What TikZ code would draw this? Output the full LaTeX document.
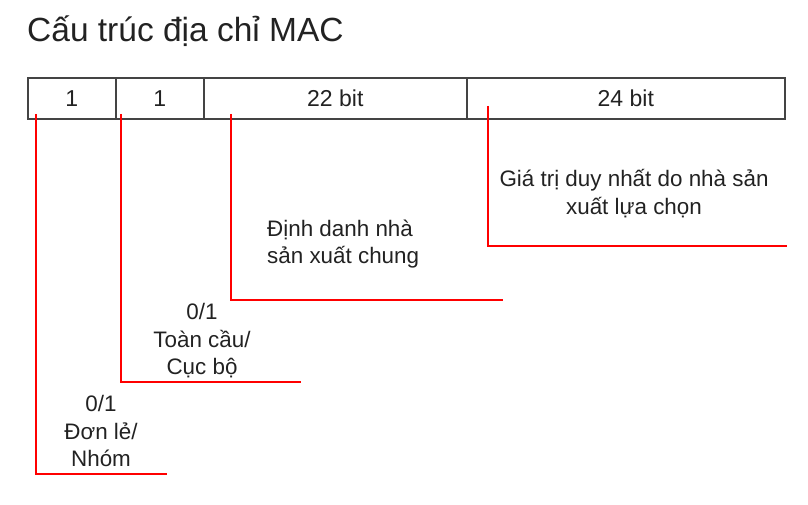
\documentclass[tikz,border=0pt]{standalone}
\usepackage{fontspec}
\setmainfont{Liberation Sans}
\usepackage{tikz}
\usetikzlibrary{positioning}
\usetikzlibrary{calc}
\usepackage{xcolor}
\definecolor{txtgray}{HTML}{222222}
\definecolor{boxgray}{HTML}{444444}
\tikzset{fieldbox/.style={draw=boxgray, line width=1.6pt, minimum height=41pt, inner sep=0pt, anchor=north west, text=txtgray, font=\fontsize{23}{27}\selectfont}}
\tikzset{redline/.style={draw=red, line width=1.8pt}}
\tikzset{lbl/.style={inner sep=0pt, text=txtgray, font=\fontsize{22.4}{27.5}\selectfont}}

\begin{document}
\begin{tikzpicture}[x=1pt, y=-1pt]

\useasboundingbox (0,0) rectangle (808,505);

\node[lbl, anchor=base west, font=\fontsize{33.5}{40}\selectfont] (title) at (27,42) {Cấu trúc địa chỉ MAC};

\node[fieldbox, minimum width=88pt] (f1) at (27, 77) {1};
\node[fieldbox, minimum width=88pt] (f2) at (115, 77) {1};
\node[fieldbox, minimum width=263pt] (f3) at (203, 77) {22 bit};
\node[fieldbox, minimum width=318pt] (f4) at (466, 77) {24 bit};

\coordinate (s1) at (36, 114);
\coordinate (s2) at (121, 114);
\coordinate (s3) at (231, 114);
\coordinate (s4) at (488, 106);

\coordinate (e1) at (167, 474);
\coordinate (e2) at (301, 382);
\coordinate (e3) at (503, 300);
\coordinate (e4) at (787, 246);

\node[lbl, align=center] (d1) at (101, 431) {0/1\\Đơn lẻ/\\Nhóm};
\node[lbl, align=center] (d2) at (202, 341) {0/1\\Toàn cầu/\\Cục bộ};
\node[lbl, align=left, anchor=west] (d3) at (267, 244) {Định danh nhà\\sản xuất chung};
\node[lbl, align=center] (d4) at (634, 193.5) {Giá trị duy nhất do nhà sản\\xuất lựa chọn};

\draw[redline] (s1) |- (e1);
\draw[redline] (s2) |- (e2);
\draw[redline] (s3) |- (e3);
\draw[redline] (s4) |- (e4);

\end{tikzpicture}
\end{document}
